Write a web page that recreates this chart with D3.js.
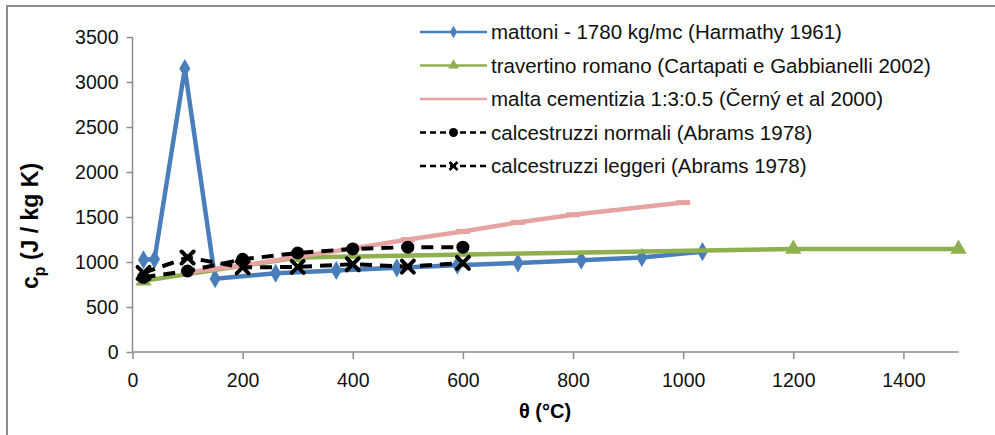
<!DOCTYPE html>
<html>
<head>
<meta charset="utf-8">
<script src="https://cdn.jsdelivr.net/npm/d3@7"></script>
<style>
  body { margin: 0; background: #fff; }
  svg { display: block; font-family: "Liberation Sans", Arial, sans-serif; }
</style>
</head>
<body>
<div id="chart"></div>
<script>
// data (θ in °C, cp in J/kg K)
const mattoni = [[20, 1025], [40, 1030], [95, 3150], [150, 815], [260, 875], [370, 905],
                 [480, 935], [590, 965], [700, 990], [815, 1020], [925, 1050], [1035, 1115]];
const travertino = [[20, 790], [300, 1050], [1200, 1145], [1500, 1145]];
const malta = [[100, 885], [200, 960], [300, 1060], [400, 1150], [500, 1250], [600, 1340],
               [700, 1440], [800, 1525], [1000, 1660]];
const normali = [[20, 830], [100, 900], [200, 1030], [300, 1100], [400, 1145], [500, 1165], [600, 1165]];
const leggeri = [[20, 880], [100, 1050], [200, 940], [300, 945], [400, 975], [500, 948], [600, 990]];

const legendLabels = [
  "mattoni - 1780 kg/mc (Harmathy 1961)",
  "travertino romano (Cartapati e Gabbianelli 2002)",
  "malta cementizia 1:3:0.5 (Černý et al 2000)",
  "calcestruzzi normali (Abrams 1978)",
  "calcestruzzi leggeri (Abrams 1978)"
];
const xTicks = [0, 200, 400, 600, 800, 1000, 1200, 1400];
const yTicks = [0, 500, 1000, 1500, 2000, 2500, 3000, 3500];

const W = 995, H = 435;
const svg = d3.select("#chart").append("svg").attr("width", W).attr("height", H);

// outer frame (cut by the image edge on the right and bottom)
svg.append("rect")
  .attr("x", 7).attr("y", 6).attr("width", 1000).attr("height", 440)
  .attr("fill", "none").attr("stroke", "#8c8c8c").attr("stroke-width", 2);

const x = d3.scaleLinear().domain([0, 1500]).range([132.5, 958.5]);
const y = d3.scaleLinear().domain([0, 3500]).range([352, 37]);

const axisColor = "#8c8c8c";
const fmt = d3.format("d");

// axes
const xAxis = svg.append("g")
  .attr("transform", `translate(0,${y(0)})`)
  .call(d3.axisBottom(x).tickValues(xTicks).tickFormat(fmt).tickSize(7).tickPadding(14).tickSizeOuter(0));
const yAxis = svg.append("g")
  .attr("transform", `translate(${x(0)},0)`)
  .call(d3.axisLeft(y).tickValues(yTicks).tickFormat(fmt).tickSize(6).tickPadding(8).tickSizeOuter(0));

[xAxis, yAxis].forEach(a => {
  a.select(".domain").attr("stroke", axisColor).attr("stroke-width", 1.5);
  a.selectAll(".tick line").attr("stroke", axisColor).attr("stroke-width", 1.5);
  a.selectAll(".tick text").attr("fill", "#111").style("font-size", "19.5px");
});
xAxis.select(".domain").attr("d", `M${x(0)},0H${x(1500)}`);
yAxis.select(".domain").attr("d", `M0,${y(0)}V${y(3500)}`);
yAxis.selectAll(".tick text").attr("dy", "0.35em");

// axis titles
svg.append("text")
  .attr("x", 545).attr("y", 418)
  .attr("text-anchor", "middle")
  .style("font-size", "20px").style("font-weight", "bold")
  .text("θ (°C)");

const yt = svg.append("text")
  .attr("transform", "translate(38,226) rotate(-90)")
  .attr("text-anchor", "middle")
  .style("font-size", "23px").style("font-weight", "bold");
yt.append("tspan").text("c");
yt.append("tspan").attr("dy", 7).style("font-size", "16px").text("p");
yt.append("tspan").attr("dy", -7).text(" (J / kg K)");

const line = d3.line().x(d => x(d[0])).y(d => y(d[1]));

// marker shapes
const diamond = d3.symbol().type(d3.symbolDiamond);
const triangle = d3.symbol().type(d3.symbolTriangle);

function drawMarkers(g, data, kind, color) {
  data.forEach(d => {
    const px = x(d[0]), py = y(d[1]);
    if (kind === "diamond") {
      g.append("path").attr("d", diamond.size(105)())
        .attr("transform", `translate(${px},${py})`).attr("fill", color);
    } else if (kind === "triangle") {
      g.append("path").attr("d", triangle.size(115)())
        .attr("transform", `translate(${px},${py})`).attr("fill", color);
    } else if (kind === "dash") {
      g.append("rect").attr("x", px - 7).attr("y", py - 2.5)
        .attr("width", 14).attr("height", 5).attr("fill", color);
    } else if (kind === "circle") {
      g.append("circle").attr("cx", px).attr("cy", py).attr("r", 6.5).attr("fill", color);
    } else if (kind === "cross") {
      const r = 6;
      g.append("path")
        .attr("d", `M${px - r},${py - r}L${px + r},${py + r}M${px - r},${py + r}L${px + r},${py - r}`)
        .attr("stroke", color).attr("stroke-width", 4).attr("stroke-linecap", "round");
    }
  });
}

const series = [
  { data: mattoni, color: "#4a7ebb", marker: "diamond", dash: null },
  { data: travertino, color: "#8fb04f", marker: "triangle", dash: null },
  { data: malta, color: "#e6a3a2", marker: "dash", dash: null },
  { data: normali, color: "#000", marker: "circle", dash: "12,8" },
  { data: leggeri, color: "#000", marker: "cross", dash: "12,8" }
];

series.forEach(s => {
  const g = svg.append("g");
  g.append("path")
    .datum(s.data)
    .attr("fill", "none")
    .attr("stroke", s.color)
    .attr("stroke-width", s.dash ? 4 : 4.5)
    .attr("stroke-dasharray", s.dash)
    .attr("stroke-linejoin", "round")
    .attr("d", line);
  drawMarkers(g, s.data, s.marker, s.color);
});

// legend
const legend = svg.append("g");
series.forEach((s, i) => {
  const ly = 32 + i * 33.5;
  legend.append("line")
    .attr("x1", 420).attr("x2", 487).attr("y1", ly).attr("y2", ly)
    .attr("stroke", s.color).attr("stroke-width", 2.5)
    .attr("stroke-dasharray", s.dash ? "6,4" : null);
  const mx = 453.5;
  if (s.marker === "diamond") {
    legend.append("path").attr("d", diamond.size(45)()).attr("transform", `translate(${mx},${ly})`).attr("fill", s.color);
  } else if (s.marker === "triangle") {
    legend.append("path").attr("d", triangle.size(50)()).attr("transform", `translate(${mx},${ly})`).attr("fill", s.color);
  } else if (s.marker === "circle") {
    legend.append("circle").attr("cx", mx).attr("cy", ly).attr("r", 4.5).attr("fill", s.color);
  } else if (s.marker === "cross") {
    legend.append("path").attr("d", `M${mx - 4},${ly - 4}L${mx + 4},${ly + 4}M${mx - 4},${ly + 4}L${mx + 4},${ly - 4}`)
      .attr("stroke", s.color).attr("stroke-width", 2.5);
  }
  legend.append("text")
    .attr("x", 491).attr("y", ly + 7)
    .attr("fill", "#111")
    .style("font-size", "20.5px")
    .text(legendLabels[i]);
});
</script>
</body>
</html>
